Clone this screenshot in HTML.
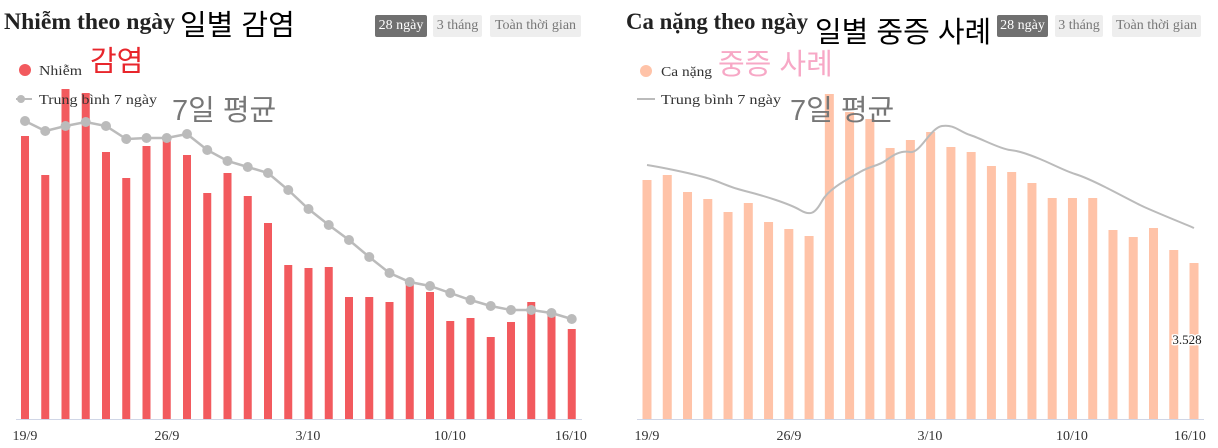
<!DOCTYPE html>
<html><head><meta charset="utf-8"><style>
body{margin:0;width:1218px;height:448px;background:#fff;overflow:hidden;position:relative;font-family:"Liberation Serif",serif}
.t{position:absolute;white-space:nowrap}
.btn{position:absolute;top:15px;height:22px;line-height:22px;font-size:14px;border-radius:2px;background:#eee;color:#777;text-align:center}
.btn.a{background:#707070;color:#fff}
.ko{font-family:"Liberation Sans","Noto Sans CJK KR",sans-serif}
</style></head><body>
<div class="t ko" style="left:180px;top:2px;font-size:29px;color:#000">일별 감염</div>
<div class="btn a" style="left:375px;width:52px">28 ngày</div>
<div class="btn" style="left:433px;width:49px">3 tháng</div>
<div class="btn" style="left:490px;width:91px">Toàn thời gian</div>

<div class="t ko" style="left:815px;top:9px;font-size:29px;color:#000">일별 중증 사례</div>
<div class="btn a" style="left:997px;width:51px">28 ngày</div>
<div class="btn" style="left:1055px;width:48px">3 tháng</div>
<div class="btn" style="left:1112px;width:89px">Toàn thời gian</div>

<svg width="1218" height="448" style="position:absolute;left:0;top:0" font-family="Liberation Serif, serif">
<text x="4" y="29" font-size="23" font-weight="bold" fill="#222" textLength="171" lengthAdjust="spacingAndGlyphs">Nhiễm theo ngày</text>
<text x="626" y="29" font-size="23" font-weight="bold" fill="#222" textLength="182" lengthAdjust="spacingAndGlyphs">Ca nặng theo ngày</text>
<g id="L"></g><g id="R"></g>
<line x1="16" y1="419.5" x2="582" y2="419.5" stroke="#d0d6e6"/>
<line x1="637" y1="419.5" x2="1204" y2="419.5" stroke="#d0d6e6"/>
<g font-size="14" fill="#333" text-anchor="middle">
<text x="25" y="440">19/9</text><text x="167" y="440">26/9</text><text x="308" y="440">3/10</text><text x="450" y="440">10/10</text><text x="571" y="440">16/10</text>
<text x="647" y="440">19/9</text><text x="789" y="440">26/9</text><text x="930" y="440">3/10</text><text x="1072" y="440">10/10</text><text x="1190" y="440">16/10</text>
</g>
<circle cx="25" cy="70" r="6" fill="#f25a5e"/>
<text x="39" y="75" font-size="14" fill="#333" textLength="43" lengthAdjust="spacingAndGlyphs">Nhiễm</text>
<line x1="16" y1="99" x2="32" y2="99" stroke="#bbb" stroke-width="2"/><circle cx="21" cy="99" r="4" fill="#bbb"/>
<text x="39" y="104" font-size="14" fill="#333" textLength="118" lengthAdjust="spacingAndGlyphs">Trung bình 7 ngày</text>
<circle cx="646" cy="71" r="6" fill="#ffc3a8"/>
<text x="661" y="76" font-size="14" fill="#333" textLength="51" lengthAdjust="spacingAndGlyphs">Ca nặng</text>
<line x1="637" y1="99" x2="655" y2="99" stroke="#bbb" stroke-width="2"/>
<text x="661" y="104" font-size="14" fill="#333" textLength="120" lengthAdjust="spacingAndGlyphs">Trung bình 7 ngày</text>
<text x="1187" y="344" font-size="13" fill="#222" text-anchor="middle" stroke="#fff" stroke-width="3" paint-order="stroke">3.528</text>
</svg>
<div class="t ko" style="left:90px;top:38px;font-size:29px;color:#e8262c">감염</div>
<div class="t ko" style="left:172px;top:87px;font-size:29px;color:#777">7일 평균</div>
<div class="t ko" style="left:718px;top:41px;font-size:29px;color:#f7a8c6">중증 사례</div>
<div class="t ko" style="left:790px;top:87px;font-size:29px;color:#777">7일 평균</div>
<script>
var ns="http://www.w3.org/2000/svg";
function el(p,n,a){var e=document.createElementNS(ns,n);for(var k in a)e.setAttribute(k,a[k]);p.appendChild(e);return e;}
var L=document.getElementById('L'),R=document.getElementById('R');
var lt=[136,175,89,93,152,178,146,139,155,193,173,196,223,265,268,267,297,297,302,284,292,321,318,337,322,302,315,329];
var ll=[121,131,126,122,126,139,138,138,134,150,161,167,173,190,209,225,240,257,273,282,286,293,300,306,310,310,313,319];
var pts=[];
for(var i=0;i<28;i++){var x=25+i*20.25;el(L,'rect',{x:x-4,y:lt[i],width:8,height:419-lt[i],fill:'#f25a5e'});pts.push(x+','+ll[i]);}
el(L,'polyline',{points:pts.join(' '),fill:'none',stroke:'#bbb','stroke-width':2.5});
for(var i=0;i<28;i++)el(L,'circle',{cx:25+i*20.25,cy:ll[i],r:5,fill:'#bbb'});
var rt=[180,175,192,199,212,203,222,229,236,94,112,119,148,140,132,147,152,166,172,183,198,198,198,230,237,228,250,263];
for(var i=0;i<28;i++){var x=647+i*20.26;el(R,'rect',{x:x-4.5,y:rt[i],width:9,height:419-rt[i],fill:'#ffc3a8'});}
el(R,'path',{d:'M647,165 C660,167 690,173 707,178 S725,186 745,191 S790,204 800,210 S815,214 822,201 S850,178 860,172 S878,166 885,161 S900,150 910,152 S930,128 942,126 S960,132 970,135 S1000,149 1010,150 S1030,155 1040,159 S1065,171 1075,174 S1095,182 1105,187 S1130,200 1140,205 S1180,222 1194,228',fill:'none',stroke:'#bbb','stroke-width':2});
</script>
</body></html>
